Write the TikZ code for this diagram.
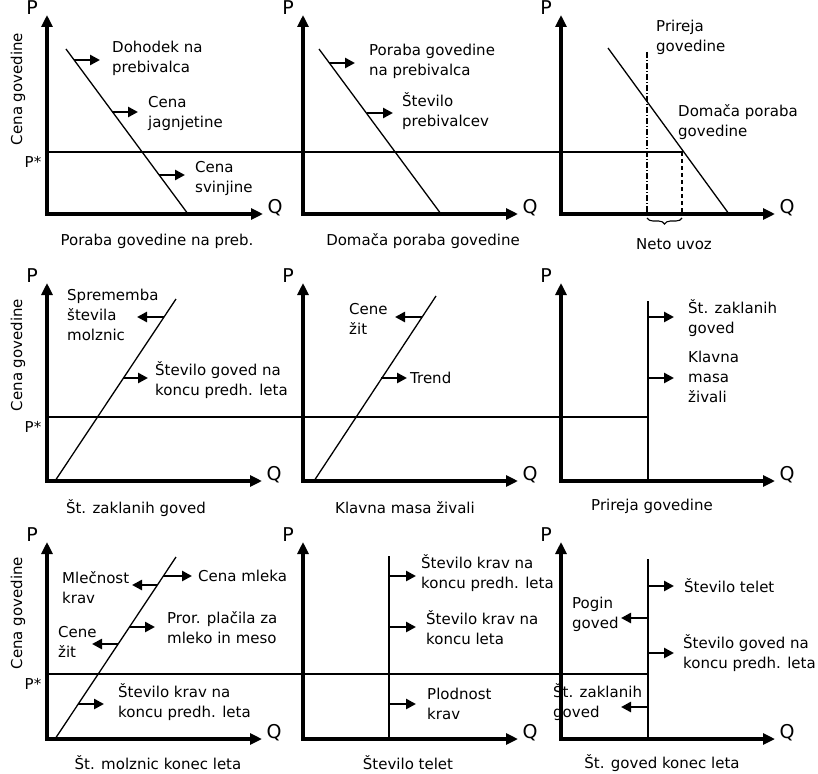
\documentclass[tikz,border=0pt]{standalone}
\usepackage{fontspec}
\setmainfont{DejaVu Sans}
\usetikzlibrary{arrows.meta,decorations.pathreplacing}
\begin{document}
\begin{tikzpicture}[x=1pt,y=-1pt,
  every node/.style={font=\fontsize{15pt}{20pt}\selectfont, inner sep=0pt},
  axlbl/.style={font=\fontsize{19pt}{22pt}\selectfont},
  axisline/.style={line width=3.2pt, line join=miter,
    {Triangle[length=12pt,width=11pt]}-{Triangle[length=12pt,width=11pt]}},
  curve/.style={line width=1.3pt},
  pstar/.style={line width=2pt},
  shiftarrow/.style={line width=2.8pt, -{Triangle[length=10pt,width=10pt]}},
  lbl/.style={anchor=west, align=left},
  dashdotline/.style={line width=1.1pt, dash pattern=on 6pt off 2pt on 1pt off 2pt},
  dashline/.style={line width=1.1pt, dash pattern=on 4pt off 3pt},
]
\useasboundingbox (0,0) rectangle (818,773);

% axes
\foreach \n/\ox/\oy/\tx/\ty in {1/47/214/263/15, 2/303/214/518/15, 3/561/214/775/15,
  4/47/481/262/283, 5/303/481/518/283, 6/561/481/775/283,
  7/47/739/262/542, 8/303/739/518/542, 9/561/739/775/542}{
  \coordinate (ptip\n) at (\ox,\ty);
  \coordinate (qtip\n) at (\tx,\oy);
  \draw[axisline] (ptip\n) |- (qtip\n);
  \node[axlbl] (p\n) at ([xshift=-15pt,yshift=7pt]ptip\n) {P};
  \node[axlbl] (q\n) at ([xshift=12pt,yshift=6pt]qtip\n) {Q};
}

% P* lines and price labels
\foreach \n/\y/\xe in {1/152/683, 4/417/648, 7/674/648}{
  \coordinate (ps\n) at (47,\y);
  \coordinate (pe\n) at (\xe,\y);
  \draw[pstar] (ps\n) -- (pe\n);
  \node (pst\n) at (33,\y+10) {P*};
}
\node[rotate=90] (cg1) at (18,89) {Cena govedine};
\node[rotate=90] (cg4) at (18,355) {Cena govedine};
\node[rotate=90] (cg7) at (18,613) {Cena govedine};

% curves
\foreach \n/\a/\b/\c/\d in {1/66/49/188/214, 2/319/49/441/214, 3/608/48/729/214,
  4/55/481/176/299, 5/314/481/436/296, 6/648/301/648/481,
  7/55/739/176/557, 8/389/556/389/739, 9/648/559/648/739}{
  \coordinate (ca\n) at (\a,\b);
  \coordinate (cb\n) at (\c,\d);
  \draw[curve] (ca\n) -- (cb\n);
}

% panel 3 extras
\coordinate (dd1) at (647,52); \coordinate (dd2) at (647,214);
\draw[dashdotline] (dd1) -- (dd2);
\coordinate (ds1) at (682,152); \coordinate (ds2) at (682,214);
\draw[dashline] (ds1) -- (ds2);
\coordinate (br1) at (647,218); \coordinate (br2) at (682,218);
\draw[line width=1.1pt, decorate, decoration={brace, mirror, amplitude=6pt}] (br1) -- (br2);

% shift arrows
\foreach \i/\a/\b/\c in {1/74/60/100, 2/112/112/138, 3/159/175/185,
  4/329/63/355, 5/367/113/393,
  6/164/317/137, 7/123/378/148,
  8/422/317/395, 9/381/378/407,
  10/648/317/674, 11/648/378/674,
  12/163/576/192, 13/157/585/132, 14/129/627/155, 15/118/644/92, 16/78/704/104,
  17/389/576/416, 18/389/627/416, 19/389/704/416,
  20/648/586/674, 21/648/618/621, 22/648/653/674, 23/648/707/621}{
  \coordinate (s\i) at (\a,\b);
  \coordinate (e\i) at (\c,\b);
  \draw[shiftarrow] (s\i) -- (e\i);
}

% labels panel 1
\node[lbl] (l1a) at (112,58) {Dohodek na\\prebivalca};
\node[lbl] (l1b) at (148,113) {Cena\\jagnjetine};
\node[lbl] (l1c) at (195,178) {Cena\\svinjine};
\node (c1) at (157,241) {Poraba govedine na preb.};
% panel 2
\node[lbl] (l2a) at (369,61) {Poraba govedine\\na prebivalca};
\node[lbl] (l2b) at (402,111) {Število\\prebivalcev};
\node (c2) at (423,241) {Domača poraba govedine};
% panel 3
\node[lbl] (l3a) at (656,37) {Prireja\\govedine};
\node[lbl] (l3b) at (678,122) {Domača poraba\\govedine};
\node (c3) at (674,244) {Neto uvoz};
% panel 4
\node[lbl] (l4a) at (67,315) {Sprememba\\števila\\molznic};
\node[lbl] (l4b) at (155,380) {Število goved na\\koncu predh. leta};
\node (c4) at (136,508) {Št. zaklanih goved};
% panel 5
\node[lbl] (l5a) at (349,319) {Cene\\žit};
\node[lbl] (l5b) at (410,378) {Trend};
\node (c5) at (405,508) {Klavna masa živali};
% panel 6
\node[lbl] (l6a) at (688,318) {Št. zaklanih\\goved};
\node[lbl] (l6b) at (688,377) {Klavna\\masa\\živali};
\node (c6) at (652,506) {Prireja govedine};
% panel 7
\node[lbl] (l7a) at (198,576) {Cena mleka};
\node[lbl] (l7b) at (62,588) {Mlečnost\\krav};
\node[lbl] (l7c) at (167,628) {Pror. plačila za\\mleko in meso};
\node[lbl] (l7d) at (58,642) {Cene\\žit};
\node[lbl] (l7e) at (118,702) {Število krav na\\koncu predh. leta};
\node (c7) at (158,763) {Št. molznic konec leta};
% panel 8
\node[lbl] (l8a) at (421,573) {Število krav na\\koncu predh. leta};
\node[lbl] (l8b) at (426,628) {Število krav na\\koncu leta};
\node[lbl] (l8c) at (427,704) {Plodnost\\krav};
\node (c8) at (408,763) {Število telet};
% panel 9
\node[lbl] (l9a) at (684,586) {Število telet};
\node[lbl] (l9b) at (572,614) {Pogin\\goved};
\node[lbl] (l9c) at (683,653) {Število goved na\\koncu predh. leta};
\node[lbl] (l9d) at (553,702) {Št. zaklanih\\goved};
\node (c9) at (662,763) {Št. goved konec leta};
\end{tikzpicture}
\end{document}
